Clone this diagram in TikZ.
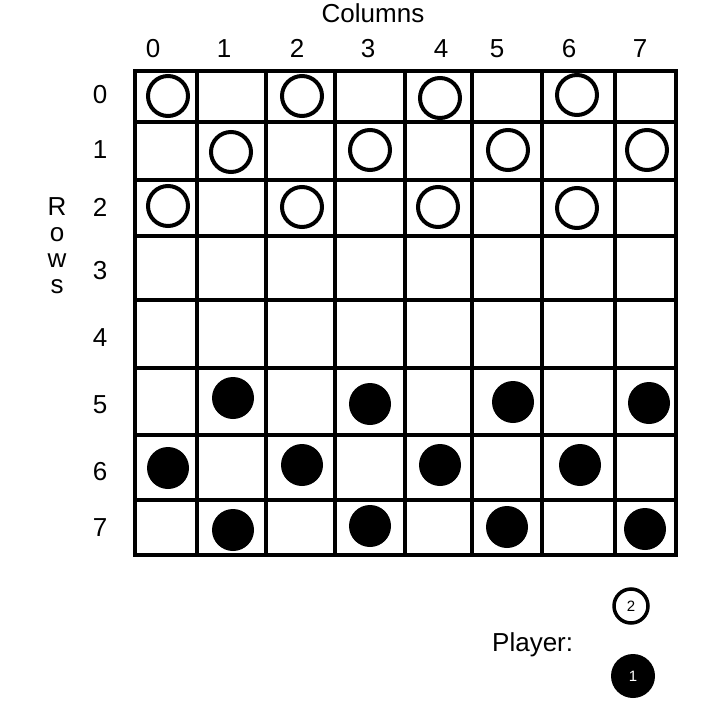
\documentclass[tikz,border=0pt]{standalone}
\usepackage{fontspec}
\setmainfont{Liberation Sans}
\begin{document}
\begin{tikzpicture}[x=1pt,y=-1pt,
  gridline/.style={line width=4pt, line cap=rect},
  whitepc/.style={circle, draw=black, fill=white, line width=4pt, minimum size=40pt, inner sep=0pt},
  blackpc/.style={circle, fill=black, minimum size=42pt, inner sep=0pt},
  lbl/.style={inner sep=0pt, anchor=base, font=\fontsize{26}{30}\selectfont},
  smallw/.style={circle, draw=black, fill=white, line width=3.5pt, minimum size=34pt, inner sep=0pt, font=\fontsize{15}{17}\selectfont},
  smallb/.style={circle, fill=black, text=white, minimum size=44pt, inner sep=0pt, font=\fontsize{15}{17}\selectfont}]
\useasboundingbox (0,0) rectangle (702,706);
\fill[white] (0,0) rectangle (702,706);
% grid
\foreach \x in {135,197,266,335,405,472,542,615,676}
  \draw[gridline] (\x,71) -- (\x,555);
\foreach \y in {71,122,180,236,300,368,435,500,555}
  \draw[gridline] (135,\y) -- (676,\y);
% white pieces
\node[whitepc] (w00) at (168,96) {};
\node[whitepc] (w02) at (302,96) {};
\node[whitepc] (w04) at (440,98) {};
\node[whitepc] (w06) at (577,95) {};
\node[whitepc] (w11) at (231,152) {};
\node[whitepc] (w13) at (370,150) {};
\node[whitepc] (w15) at (508,150) {};
\node[whitepc] (w17) at (647,150) {};
\node[whitepc] (w20) at (168,206) {};
\node[whitepc] (w22) at (302,207) {};
\node[whitepc] (w24) at (438,207) {};
\node[whitepc] (w26) at (577,208) {};
% black pieces
\node[blackpc] (b51) at (233,398) {};
\node[blackpc] (b53) at (370,404) {};
\node[blackpc] (b55) at (513,402) {};
\node[blackpc] (b57) at (649,403) {};
\node[blackpc] (b60) at (168,468) {};
\node[blackpc] (b62) at (302,465) {};
\node[blackpc] (b64) at (440,465) {};
\node[blackpc] (b66) at (580,465) {};
\node[blackpc] (b71) at (233,530) {};
\node[blackpc] (b73) at (370,526) {};
\node[blackpc] (b75) at (507,527) {};
\node[blackpc] (b77) at (645,529) {};
% labels
\node[lbl] (cols) at (373,23) {Columns};
\node[lbl] (c0) at (153,58) {0};
\node[lbl] (c1) at (224,58) {1};
\node[lbl] (c2) at (297,58) {2};
\node[lbl] (c3) at (368,58) {3};
\node[lbl] (c4) at (441,58) {4};
\node[lbl] (c5) at (497,58) {5};
\node[lbl] (c6) at (569,58) {6};
\node[lbl] (c7) at (640,58) {7};
\node[lbl] (r0) at (100,103) {0};
\node[lbl] (r1) at (100,158) {1};
\node[lbl] (r2) at (100,216) {2};
\node[lbl] (r3) at (100,279) {3};
\node[lbl] (r4) at (100,346) {4};
\node[lbl] (r5) at (100,413) {5};
\node[lbl] (r6) at (100,480) {6};
\node[lbl] (r7) at (100,536) {7};
\node[lbl] (rowR) at (57,215) {R};
\node[lbl] (rowo) at (57,241) {o};
\node[lbl] (roww) at (57,267) {w};
\node[lbl] (rows) at (57,293) {s};
\node[lbl, anchor=base west] (player) at (492,651) {Player:};
\node[smallw] (p2) at (631,606) {2};
\node[smallb] (p1) at (633,676) {1};
\end{tikzpicture}
\end{document}
